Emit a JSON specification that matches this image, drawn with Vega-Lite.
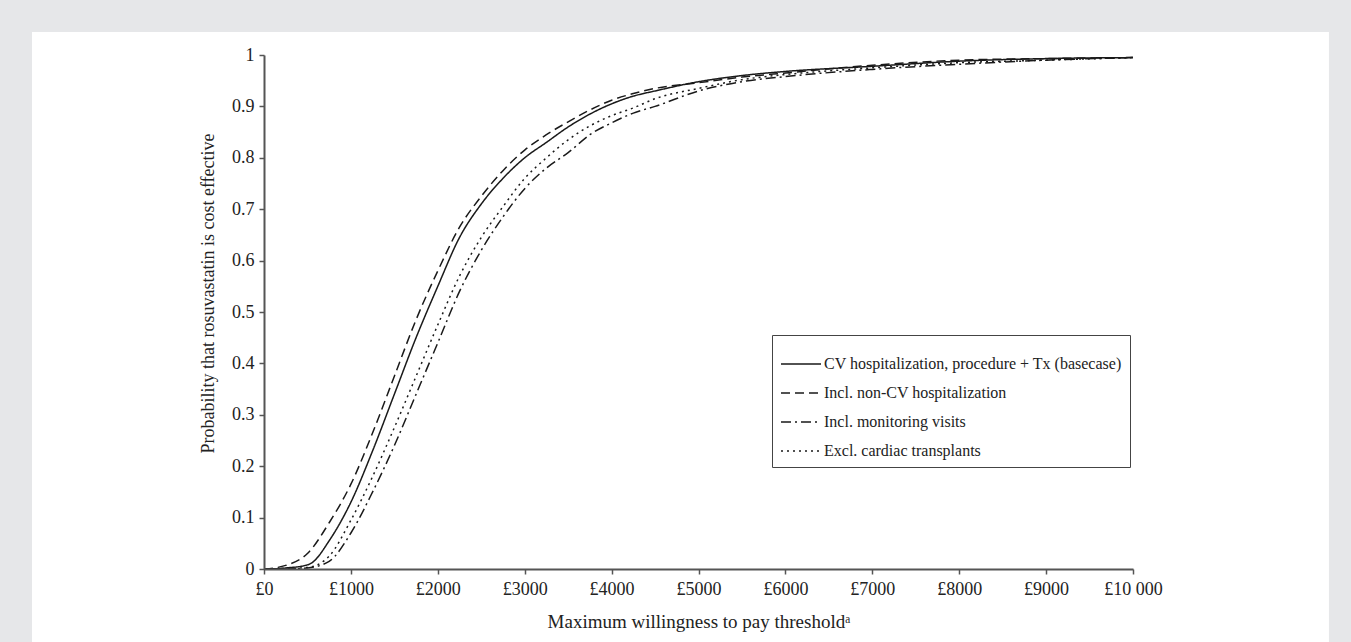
{
  "$schema": "https://vega.github.io/schema/vega-lite/v6.json",
  "width": 869,
  "height": 514,
  "autosize": "none",
  "padding": {"left": 264, "top": 55, "right": 218, "bottom": 73},
  "background": "#e6e7e9",
  "config": {
    "view": {"stroke": null},
    "font": "Liberation Serif"
  },
  "datasets": {
    "curves": [
      {"series": "CV hospitalization, procedure + Tx (basecase)", "wtp": 0, "p": 0},
      {"series": "CV hospitalization, procedure + Tx (basecase)", "wtp": 250, "p": 0.002},
      {"series": "CV hospitalization, procedure + Tx (basecase)", "wtp": 500, "p": 0.008},
      {"series": "CV hospitalization, procedure + Tx (basecase)", "wtp": 550, "p": 0.012},
      {"series": "CV hospitalization, procedure + Tx (basecase)", "wtp": 750, "p": 0.055},
      {"series": "CV hospitalization, procedure + Tx (basecase)", "wtp": 1000, "p": 0.13},
      {"series": "CV hospitalization, procedure + Tx (basecase)", "wtp": 1250, "p": 0.23},
      {"series": "CV hospitalization, procedure + Tx (basecase)", "wtp": 1500, "p": 0.34},
      {"series": "CV hospitalization, procedure + Tx (basecase)", "wtp": 1750, "p": 0.45},
      {"series": "CV hospitalization, procedure + Tx (basecase)", "wtp": 2000, "p": 0.55},
      {"series": "CV hospitalization, procedure + Tx (basecase)", "wtp": 2250, "p": 0.645},
      {"series": "CV hospitalization, procedure + Tx (basecase)", "wtp": 2500, "p": 0.71},
      {"series": "CV hospitalization, procedure + Tx (basecase)", "wtp": 2750, "p": 0.76},
      {"series": "CV hospitalization, procedure + Tx (basecase)", "wtp": 3000, "p": 0.80},
      {"series": "CV hospitalization, procedure + Tx (basecase)", "wtp": 3250, "p": 0.83},
      {"series": "CV hospitalization, procedure + Tx (basecase)", "wtp": 3500, "p": 0.86},
      {"series": "CV hospitalization, procedure + Tx (basecase)", "wtp": 3750, "p": 0.885},
      {"series": "CV hospitalization, procedure + Tx (basecase)", "wtp": 4000, "p": 0.905},
      {"series": "CV hospitalization, procedure + Tx (basecase)", "wtp": 4250, "p": 0.92},
      {"series": "CV hospitalization, procedure + Tx (basecase)", "wtp": 4500, "p": 0.93},
      {"series": "CV hospitalization, procedure + Tx (basecase)", "wtp": 5000, "p": 0.948},
      {"series": "CV hospitalization, procedure + Tx (basecase)", "wtp": 5500, "p": 0.96},
      {"series": "CV hospitalization, procedure + Tx (basecase)", "wtp": 6000, "p": 0.968},
      {"series": "CV hospitalization, procedure + Tx (basecase)", "wtp": 7000, "p": 0.978},
      {"series": "CV hospitalization, procedure + Tx (basecase)", "wtp": 8000, "p": 0.988},
      {"series": "CV hospitalization, procedure + Tx (basecase)", "wtp": 9000, "p": 0.993},
      {"series": "CV hospitalization, procedure + Tx (basecase)", "wtp": 10000, "p": 0.995},

      {"series": "Incl. non-CV hospitalization", "wtp": 0, "p": 0},
      {"series": "Incl. non-CV hospitalization", "wtp": 250, "p": 0.007},
      {"series": "Incl. non-CV hospitalization", "wtp": 500, "p": 0.03},
      {"series": "Incl. non-CV hospitalization", "wtp": 750, "p": 0.09},
      {"series": "Incl. non-CV hospitalization", "wtp": 1000, "p": 0.165},
      {"series": "Incl. non-CV hospitalization", "wtp": 1250, "p": 0.265},
      {"series": "Incl. non-CV hospitalization", "wtp": 1500, "p": 0.375},
      {"series": "Incl. non-CV hospitalization", "wtp": 1750, "p": 0.485},
      {"series": "Incl. non-CV hospitalization", "wtp": 2000, "p": 0.58},
      {"series": "Incl. non-CV hospitalization", "wtp": 2250, "p": 0.665},
      {"series": "Incl. non-CV hospitalization", "wtp": 2500, "p": 0.725},
      {"series": "Incl. non-CV hospitalization", "wtp": 2750, "p": 0.775},
      {"series": "Incl. non-CV hospitalization", "wtp": 3000, "p": 0.815},
      {"series": "Incl. non-CV hospitalization", "wtp": 3250, "p": 0.845},
      {"series": "Incl. non-CV hospitalization", "wtp": 3500, "p": 0.87},
      {"series": "Incl. non-CV hospitalization", "wtp": 3750, "p": 0.893},
      {"series": "Incl. non-CV hospitalization", "wtp": 4000, "p": 0.912},
      {"series": "Incl. non-CV hospitalization", "wtp": 4250, "p": 0.925},
      {"series": "Incl. non-CV hospitalization", "wtp": 4500, "p": 0.935},
      {"series": "Incl. non-CV hospitalization", "wtp": 5000, "p": 0.946},
      {"series": "Incl. non-CV hospitalization", "wtp": 5500, "p": 0.957},
      {"series": "Incl. non-CV hospitalization", "wtp": 6000, "p": 0.965},
      {"series": "Incl. non-CV hospitalization", "wtp": 7000, "p": 0.98},
      {"series": "Incl. non-CV hospitalization", "wtp": 8000, "p": 0.99},
      {"series": "Incl. non-CV hospitalization", "wtp": 9000, "p": 0.993},
      {"series": "Incl. non-CV hospitalization", "wtp": 10000, "p": 0.995},

      {"series": "Incl. monitoring visits", "wtp": 0, "p": 0},
      {"series": "Incl. monitoring visits", "wtp": 250, "p": 0.0},
      {"series": "Incl. monitoring visits", "wtp": 500, "p": 0.002},
      {"series": "Incl. monitoring visits", "wtp": 750, "p": 0.015},
      {"series": "Incl. monitoring visits", "wtp": 1000, "p": 0.07},
      {"series": "Incl. monitoring visits", "wtp": 1250, "p": 0.15},
      {"series": "Incl. monitoring visits", "wtp": 1500, "p": 0.24},
      {"series": "Incl. monitoring visits", "wtp": 1750, "p": 0.34},
      {"series": "Incl. monitoring visits", "wtp": 2000, "p": 0.44},
      {"series": "Incl. monitoring visits", "wtp": 2250, "p": 0.54},
      {"series": "Incl. monitoring visits", "wtp": 2500, "p": 0.62},
      {"series": "Incl. monitoring visits", "wtp": 2750, "p": 0.685},
      {"series": "Incl. monitoring visits", "wtp": 3000, "p": 0.74},
      {"series": "Incl. monitoring visits", "wtp": 3250, "p": 0.78},
      {"series": "Incl. monitoring visits", "wtp": 3500, "p": 0.81},
      {"series": "Incl. monitoring visits", "wtp": 3750, "p": 0.845},
      {"series": "Incl. monitoring visits", "wtp": 4000, "p": 0.868},
      {"series": "Incl. monitoring visits", "wtp": 4250, "p": 0.887},
      {"series": "Incl. monitoring visits", "wtp": 4500, "p": 0.90},
      {"series": "Incl. monitoring visits", "wtp": 5000, "p": 0.93},
      {"series": "Incl. monitoring visits", "wtp": 5500, "p": 0.948},
      {"series": "Incl. monitoring visits", "wtp": 6000, "p": 0.958},
      {"series": "Incl. monitoring visits", "wtp": 7000, "p": 0.972},
      {"series": "Incl. monitoring visits", "wtp": 8000, "p": 0.982},
      {"series": "Incl. monitoring visits", "wtp": 9000, "p": 0.99},
      {"series": "Incl. monitoring visits", "wtp": 10000, "p": 0.995},

      {"series": "Excl. cardiac transplants", "wtp": 0, "p": 0},
      {"series": "Excl. cardiac transplants", "wtp": 250, "p": 0.001},
      {"series": "Excl. cardiac transplants", "wtp": 500, "p": 0.003},
      {"series": "Excl. cardiac transplants", "wtp": 750, "p": 0.025},
      {"series": "Excl. cardiac transplants", "wtp": 1000, "p": 0.095},
      {"series": "Excl. cardiac transplants", "wtp": 1250, "p": 0.18},
      {"series": "Excl. cardiac transplants", "wtp": 1500, "p": 0.275},
      {"series": "Excl. cardiac transplants", "wtp": 1750, "p": 0.375},
      {"series": "Excl. cardiac transplants", "wtp": 2000, "p": 0.475},
      {"series": "Excl. cardiac transplants", "wtp": 2250, "p": 0.57},
      {"series": "Excl. cardiac transplants", "wtp": 2500, "p": 0.645},
      {"series": "Excl. cardiac transplants", "wtp": 2750, "p": 0.705},
      {"series": "Excl. cardiac transplants", "wtp": 3000, "p": 0.76},
      {"series": "Excl. cardiac transplants", "wtp": 3250, "p": 0.80},
      {"series": "Excl. cardiac transplants", "wtp": 3500, "p": 0.835},
      {"series": "Excl. cardiac transplants", "wtp": 3750, "p": 0.862},
      {"series": "Excl. cardiac transplants", "wtp": 4000, "p": 0.882},
      {"series": "Excl. cardiac transplants", "wtp": 4250, "p": 0.897},
      {"series": "Excl. cardiac transplants", "wtp": 4500, "p": 0.915},
      {"series": "Excl. cardiac transplants", "wtp": 5000, "p": 0.935},
      {"series": "Excl. cardiac transplants", "wtp": 5500, "p": 0.952},
      {"series": "Excl. cardiac transplants", "wtp": 6000, "p": 0.962},
      {"series": "Excl. cardiac transplants", "wtp": 7000, "p": 0.975},
      {"series": "Excl. cardiac transplants", "wtp": 8000, "p": 0.985},
      {"series": "Excl. cardiac transplants", "wtp": 9000, "p": 0.99},
      {"series": "Excl. cardiac transplants", "wtp": 10000, "p": 0.995}
    ]
  },
  "layer": [
    {
      "data": {"values": [{"panel": "white"}]},
      "mark": {"type": "rect", "fill": "white", "stroke": null},
      "encoding": {
        "x": {"datum": -2670, "type": "quantitative"},
        "x2": {"datum": 12255},
        "y": {"datum": 1.0447, "type": "quantitative"},
        "y2": {"datum": -0.3}
      }
    },
    {
      "data": {"name": "curves"},
      "mark": {"type": "line", "color": "#1a1a1a", "strokeWidth": 1.5, "interpolate": "monotone"},
      "encoding": {
        "x": {
          "field": "wtp",
          "type": "quantitative",
          "scale": {"domain": [0, 10000], "nice": false, "zero": false},
          "axis": {
            "zindex": 2,
            "title": "Maximum willingness to pay thresholdᵃ",
            "values": [0, 1000, 2000, 3000, 4000, 5000, 6000, 7000, 8000, 9000, 10000],
            "labelExpr": "datum.value == 10000 ? '£10 000' : '£' + datum.value",
            "grid": false,
            "domainColor": "#555555",
            "domainWidth": 2,
            "tickColor": "#555555",
            "tickWidth": 1.5,
            "tickSize": 5,
            "labelFont": "Liberation Serif",
            "labelFontSize": 18,
            "labelColor": "#222222",
            "labelPadding": 6,
            "labelFlush": false,
            "labelOverlap": false,
            "titleFont": "Liberation Serif",
            "titleFontSize": 19,
            "titleFontWeight": "normal",
            "titleColor": "#222222",
            "titlePadding": 14
          }
        },
        "y": {
          "field": "p",
          "type": "quantitative",
          "scale": {"domain": [0, 1], "nice": false},
          "axis": {
            "zindex": 2,
            "title": "Probability that rosuvastatin is cost effective",
            "values": [0, 0.1, 0.2, 0.3, 0.4, 0.5, 0.6, 0.7, 0.8, 0.9, 1],
            "format": ".1~f",
            "grid": false,
            "domainColor": "#555555",
            "domainWidth": 2,
            "tickColor": "#555555",
            "tickWidth": 1.5,
            "tickSize": 5,
            "labelFont": "Liberation Serif",
            "labelFontSize": 18,
            "labelColor": "#222222",
            "labelPadding": 5,
            "labelFlush": false,
            "labelOverlap": false,
            "titleFont": "Liberation Serif",
            "titleFontSize": 18,
            "titleFontWeight": "normal",
            "titleColor": "#222222",
            "titlePadding": 14,
            "titleY": 238
          }
        },
        "strokeDash": {
          "field": "series",
          "type": "nominal",
          "scale": {
            "domain": ["CV hospitalization, procedure + Tx (basecase)", "Incl. non-CV hospitalization", "Incl. monitoring visits", "Excl. cardiac transplants"],
            "range": [[1, 0], [9, 5], [10, 4, 2, 4], [2, 4]]
          },
          "legend": {
            "zindex": 2,
            "orient": "none",
            "legendX": 508,
            "legendY": 280,
            "title": null,
            "fillColor": "white",
            "strokeColor": "#444444",
            "padding": 8,
            "symbolType": "stroke",
            "symbolSize": 1600,
            "symbolStrokeWidth": 1.5,
            "symbolStrokeColor": "#1a1a1a",
            "labelFont": "Liberation Serif",
            "labelFontSize": 16,
            "labelColor": "#222222",
            "labelOffset": 2,
            "labelLimit": 400,
            "rowPadding": -3
          }
        }
      }
    }
  ]
}
